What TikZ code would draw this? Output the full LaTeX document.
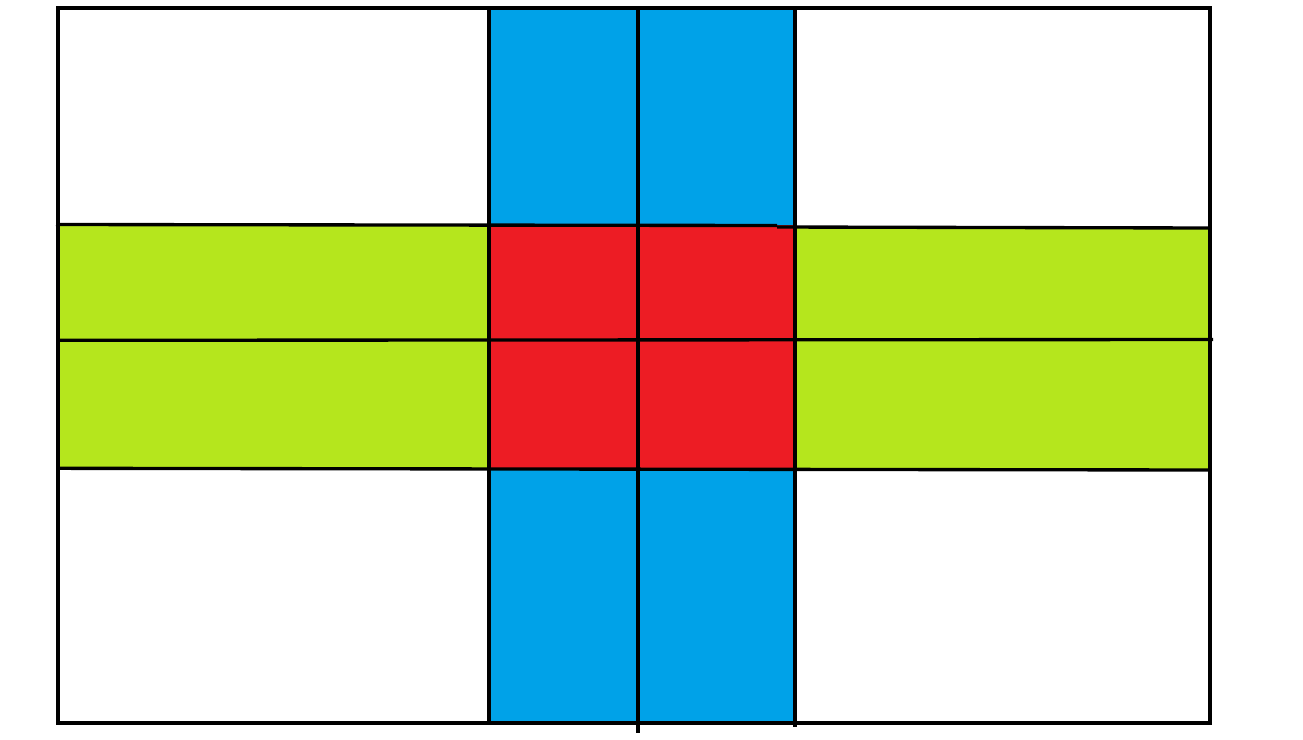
\documentclass[tikz,border=0pt]{standalone}
\usepackage{xcolor}
\usepackage{tikz}
\definecolor{paintBlue}{RGB}{0, 162, 232}
\definecolor{paintRed}{RGB}{237, 28, 36}
\definecolor{paintGreen}{RGB}{181, 230, 29}
\tikzset{
  gridline/.style={
    draw=black, line width=0.95pt
  }
}
\begin{document}
\begin{tikzpicture}[x=0.01cm, y=-0.01cm]

  % ── Canvas ────────────────────────────────────────────────────────────────
  \useasboundingbox (0,0) rectangle (1303,739);
  \fill[white] (0,0) rectangle (1303,739);

  % ── Vertical band (blue) ──────────────────────────────────────────────────
  \fill[paintBlue] (489,8) rectangle (795,225);
  \fill[paintBlue] (489,469) rectangle (795,723);

  % ── Horizontal band (green) ───────────────────────────────────────────────
  \fill[paintGreen] (58,225) rectangle (489,468.5);
  \fill[paintGreen] (795,228) rectangle (1210,470);

  % ── Crossing (red) ────────────────────────────────────────────────────────
  \fill[paintRed] (489,225) rectangle (795,469);

  % ── Outer border ─────────────────────────────────────────────────────────
  \draw[gridline] (58,8) rectangle (1210,723);

  % ── Vertical lines ────────────────────────────────────────────────────────
  \draw[gridline] (489,8) -- (489,723);
  \draw[gridline] (638,8) -- (638,733);
  \draw[gridline] (795,8) -- (795,726.5);

  % ── Horizontal lines ──────────────────────────────────────────────────────
  \draw[gridline] (56,224.5) -- (777,225.5);
  \draw[gridline] (777,227) -- (1210,228);
  \draw[gridline] (58,340.3) -- (1213,339.5);
  \draw[gridline] (58,468.3) -- (1210,470);

\end{tikzpicture}
\end{document}
